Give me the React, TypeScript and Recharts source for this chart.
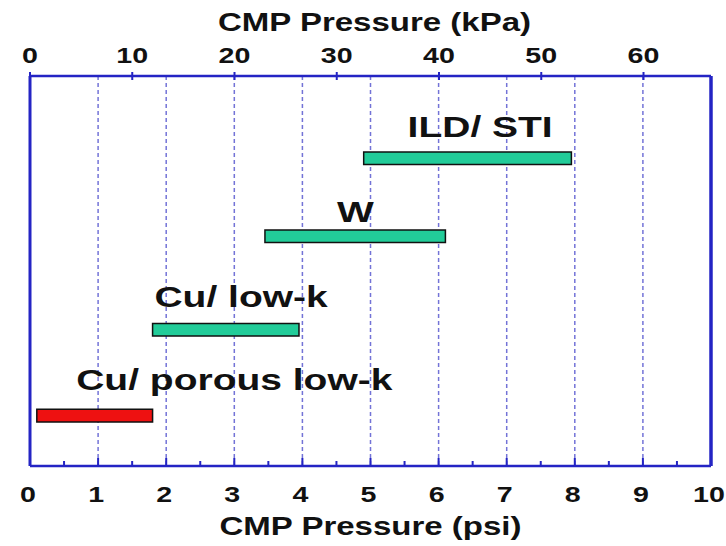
import React from 'react';
import { ComposedChart, Bar, Scatter, XAxis, YAxis, CartesianGrid, Cell } from 'recharts';

// ---- data ----
const processes = ['Cu/ porous low-k', 'Cu/ low-k', 'W', 'ILD/ STI'];
const pressureStart = [0.1, 1.8, 3.45, 4.9]; // psi
const pressureEnd = [1.8, 3.95, 6.1, 7.95]; // psi
const rowLevel = [1.3, 3.5, 5.9, 7.9];
const barColors = ['#ee1111', '#22cc99', '#22cc99', '#22cc99'];
const labelAtPsi = [3.0, 3.1, 4.78, 6.61];
const labelLevel = [1.95, 4.08, 6.26, 8.44];
const psiTicks = [0, 0.5, 1, 1.5, 2, 2.5, 3, 3.5, 4, 4.5, 5, 5.5, 6, 6.5, 7, 7.5, 8, 8.5, 9, 9.5, 10];
const psiGrid = [1, 2, 3, 4, 5, 6, 7, 8, 9];
const kpaTicks = [0, 10, 20, 30, 40, 50, 60];
const kpaMax = 66.6;

const barData = processes.map((name, i) => ({
  name,
  level: rowLevel[i],
  range: [pressureStart[i], pressureEnd[i]],
}));
const labelData = processes.map((name, i) => ({ name, x: labelAtPsi[i], level: labelLevel[i] }));

const AXIS = '#2424c4';
const FONT = '"Liberation Sans", Arial, Helvetica, sans-serif';

const SText = ({ x, y, size, sx, children }: any) => (
  <text
    transform={`translate(${x},${y}) scale(${sx},1)`}
    textAnchor="middle"
    fontFamily={FONT}
    fontWeight="bold"
    fontSize={size}
    fill="#111"
  >
    {children}
  </text>
);

const PsiTick = (props: any) => {
  const { x, y, payload } = props;
  const v = payload.value;
  const major = Number.isInteger(v);
  return (
    <g>
      <line x1={x} x2={x} y1={y} y2={y - (major ? 8 : 5)} stroke={AXIS} strokeWidth={2} />
      {major ? (
        <SText x={x - 2} y={y + 36} size={22} sx={1.3}>
          {String(v)}
        </SText>
      ) : null}
    </g>
  );
};

const KpaTick = (props: any) => {
  const { x, y, payload } = props;
  return (
    <g>
      <line x1={x} x2={x} y1={y - 4} y2={y + 4} stroke={AXIS} strokeWidth={2} />
      <SText x={x} y={y - 13} size={22} sx={1.3}>
        {String(payload.value)}
      </SText>
    </g>
  );
};

const LabelShape = (props: any) => {
  const { cx, cy, payload } = props;
  return (
    <SText x={cx} y={cy} size={30} sx={1.3}>
      {payload.name}
    </SText>
  );
};

const BottomTitle = (props: any) => {
  const vb = props.viewBox;
  return (
    <SText x={vb.x + vb.width / 2} y={vb.y + 69} size={26} sx={1.27}>
      CMP Pressure (psi)
    </SText>
  );
};

const TopTitle = (props: any) => {
  const vb = props.viewBox;
  return (
    <SText x={vb.x + vb.width / 2 + 4} y={31} size={26} sx={1.27}>
      CMP Pressure (kPa)
    </SText>
  );
};

export default function App() {
  return (
    <div style={{ position: 'absolute', left: 0, top: 0, background: '#fff' }}>
      <ComposedChart
        width={726}
        height={546}
        layout="vertical"
        data={barData}
        margin={{ top: 0, right: 14, bottom: 0, left: 29 }}
      >
        <CartesianGrid
          xAxisId="psi"
          yAxisId="lvl"
          horizontal={false}
          verticalValues={psiGrid}
          stroke="#5b5bd0"
          strokeOpacity={0.85}
          strokeWidth={1.5}
          strokeDasharray="4 3"
        />
        <XAxis
          xAxisId="psi"
          type="number"
          orientation="bottom"
          domain={[0, 10]}
          ticks={psiTicks}
          interval={0}
          allowDataOverflow
          height={80}
          tickSize={0}
          tickMargin={0}
          tick={<PsiTick />}
          axisLine={{ stroke: AXIS, strokeWidth: 2.5 }}
          tickLine={false}
          label={<BottomTitle />}
        />
        <XAxis
          xAxisId="kpa"
          type="number"
          orientation="top"
          domain={[0, kpaMax]}
          ticks={kpaTicks}
          interval={0}
          allowDataOverflow
          height={76}
          tickSize={0}
          tickMargin={0}
          tick={<KpaTick />}
          axisLine={{ stroke: AXIS, strokeWidth: 2.5 }}
          tickLine={false}
          label={<TopTitle />}
        />
        <YAxis
          yAxisId="lvl"
          type="number"
          dataKey="level"
          domain={[0, 10]}
          reversed
          allowDataOverflow
          width={1}
          tick={false}
          tickLine={false}
          axisLine={{ stroke: AXIS, strokeWidth: 3 }}
        />
        <YAxis
          yAxisId="right"
          orientation="right"
          type="number"
          domain={[0, 10]}
          width={1}
          tick={false}
          tickLine={false}
          axisLine={{ stroke: AXIS, strokeWidth: 3.5 }}
        />
        <Bar
          xAxisId="psi"
          yAxisId="lvl"
          dataKey="range"
          barSize={16}
          stroke="#111"
          strokeWidth={1.5}
          isAnimationActive={false}
        >
          {barData.map((d, i) => (
            <Cell key={d.name} fill={barColors[i]} />
          ))}
        </Bar>
        <Scatter
          xAxisId="psi"
          yAxisId="lvl"
          dataKey="x"
          data={labelData}
          shape={<LabelShape />}
          isAnimationActive={false}
        />
      </ComposedChart>
    </div>
  );
}
